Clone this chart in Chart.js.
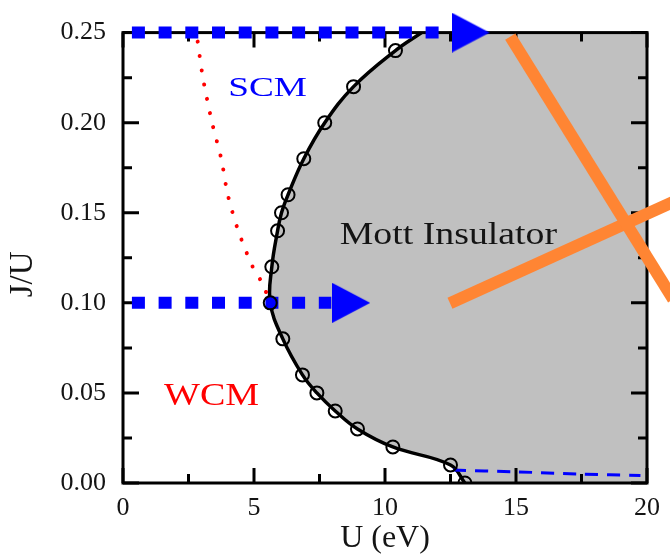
<!DOCTYPE html>
<html>
<head>
<meta charset="utf-8">
<script src="https://cdn.jsdelivr.net/npm/chart.js@4/dist/chart.umd.min.js"></script>
<style>
  html, body { margin: 0; padding: 0; background: #fff; }
  #c { display: block; }
</style>
</head>
<body>
<canvas id="c" width="670" height="558"></canvas>
<script>
// Mott boundary: open circles (U in eV, J/U)
const circU = [13.05, 12.5, 10.3, 8.95, 8.1, 7.4, 6.85, 6.1, 5.62, 5.68, 5.9, 6.05, 6.3, 6.9, 7.7, 8.8, 10.4];
const circJ = [0.0, 0.01, 0.02, 0.03, 0.04, 0.05, 0.06, 0.08, 0.10, 0.12, 0.14, 0.15, 0.16, 0.18, 0.20, 0.22, 0.24];
// solid line runs on up to the top edge
const curveU = [...circU, 11.4];
const curveJ = [...circJ, 0.25];

// WCM / SCM crossover (red dotted)
const crossU = [2.85, 3.05, 3.4, 3.75, 4.0, 4.4, 4.95, 5.35, 5.6];
const crossJ = [0.245, 0.225, 0.2, 0.18, 0.16, 0.14, 0.12, 0.11, 0.10];

// blue dashed line near J/U = 0
const lowU = [12.6, 15, 17.4, 19.75];
const lowJ = [0.0072, 0.0062, 0.005, 0.0042];

// blue arrows
const arrowJ = [0.25, 0.10];
const arrowFromU = [0.34, 0.34];
const arrowToU = [12.6, 7.95];
const headU = [13.27, 8.71];

// orange cross
const orange1U = [14.78, 21], orange1J = [0.2478, 0.102];
const orange2U = [12.48, 21], orange2J = [0.0998, 0.156];

// tick values
const xTicks = [0, 5, 10, 15, 20];
const yTicks = [0, 0.05, 0.10, 0.15, 0.20, 0.25];

// region labels
const labelText = ['SCM', 'Mott Insulator', 'WCM'];
const labelU = [5.52, 12.42, 3.38];
const labelJ = [0.215, 0.1328, 0.0433];

const SERIF = "'Liberation Serif', 'Times New Roman', serif";
const labelStyle = [
  { color: '#0000ff', size: 27, sx: 1.38 },
  { color: '#141414', size: 31, sx: 1.22 },
  { color: '#ff0000', size: 32, sx: 1.19 },
];

const pts = (xs, ys) => xs.map((x, i) => ({ x, y: ys[i] }));

// arrow head as a canvas point style
const head = document.createElement('canvas');
head.width = 38; head.height = 40;
{
  const g = head.getContext('2d');
  g.fillStyle = '#0000ff';
  g.beginPath(); g.moveTo(0, 0); g.lineTo(38, 20); g.lineTo(0, 40); g.closePath(); g.fill();
}

// box frame + inward ticks, drawn right after the grey region
const frame = {
  id: 'frame',
  afterDatasetDraw(chart, args) {
    if (args.index !== 0) return;
    const { ctx, chartArea: a, scales: { x, y } } = chart;
    ctx.save();
    ctx.strokeStyle = '#000';
    ctx.lineWidth = 3;
    ctx.lineCap = 'butt';
    ctx.beginPath();
    const xs = [];
    xTicks.forEach((v, i) => { xs.push([v, 15]); if (i < xTicks.length - 1) xs.push([v + 2.5, 9]); });
    xs.forEach(([v, len]) => {
      const px = x.getPixelForValue(v);
      ctx.moveTo(px, a.bottom); ctx.lineTo(px, a.bottom - len);
      ctx.moveTo(px, a.top); ctx.lineTo(px, a.top + len);
    });
    const ys = [];
    yTicks.forEach((v, i) => { ys.push([v, 16]); if (i < yTicks.length - 1) ys.push([v + 0.025, 9]); });
    ys.forEach(([v, len]) => {
      const py = y.getPixelForValue(v);
      ctx.moveTo(a.left, py); ctx.lineTo(a.left + len, py);
      ctx.moveTo(a.right, py); ctx.lineTo(a.right - len, py);
    });
    ctx.stroke();
    ctx.strokeRect(a.left, a.top, a.right - a.left, a.bottom - a.top);
    ctx.restore();
  },
  afterDatasetsDraw(chart) {
    const { ctx, scales: { x, y } } = chart;
    ctx.save();
    ctx.textAlign = 'center';
    ctx.textBaseline = 'alphabetic';
    labelText.forEach((t, i) => {
      const s = labelStyle[i];
      ctx.save();
      ctx.translate(x.getPixelForValue(labelU[i]), y.getPixelForValue(labelJ[i]));
      ctx.scale(s.sx, 1);
      ctx.fillStyle = s.color;
      ctx.font = `${s.size}px ${SERIF}`;
      ctx.fillText(t, 0, 0);
      ctx.restore();
    });
    ctx.restore();
  },
};

const arrowLine = i => ({
  data: pts([arrowFromU[i], arrowToU[i]], [arrowJ[i], arrowJ[i]]),
  showLine: true, borderColor: '#0000ff', borderWidth: 12, borderDash: [13, 13.7],
  borderCapStyle: 'butt', pointRadius: 0, clip: false, order: 3,
});

new Chart(document.getElementById('c'), {
  type: 'scatter',
  plugins: [frame],
  data: {
    datasets: [
      { // grey Mott insulator region
        data: pts([...curveU, 20, 20], [...curveJ, 0.25, 0]),
        showLine: true, fill: 'shape', backgroundColor: '#c0c0c0',
        borderWidth: 0, pointRadius: 0, tension: 0, order: 10,
      },
      {
        data: pts(orange1U, orange1J), showLine: true, borderColor: '#ff8533',
        borderWidth: 12, borderCapStyle: 'butt', pointRadius: 0, clip: false, order: 8,
      },
      {
        data: pts(orange2U, orange2J), showLine: true, borderColor: '#ff8533',
        borderWidth: 12, borderCapStyle: 'butt', pointRadius: 0, clip: false, order: 8,
      },
      { // phase boundary
        data: pts(curveU, curveJ), showLine: true, borderColor: '#000',
        borderWidth: 3.5, tension: 0.4, pointRadius: 0, order: 6,
      },
      {
        data: pts(lowU, lowJ), showLine: true, borderColor: '#0000ff',
        borderWidth: 3, borderDash: [13, 9], tension: 0.3, pointRadius: 0, order: 5,
      },
      {
        data: pts(crossU, crossJ), showLine: true, borderColor: '#ff0000',
        borderWidth: 4, borderDash: [0.01, 14.5], borderCapStyle: 'round',
        tension: 0.3, pointRadius: 0, order: 4,
      },
      arrowLine(0),
      arrowLine(1),
      {
        data: pts(headU, arrowJ), showLine: false, pointStyle: head, pointRadius: 20,
        clip: false, order: 2,
      },
      {
        data: pts(circU, circJ), showLine: false, pointStyle: 'circle', pointRadius: 6.5,
        pointBorderWidth: 2, pointBorderColor: '#000', pointBackgroundColor: 'rgba(0,0,0,0)',
        order: 1,
      },
    ],
  },
  options: {
    responsive: false, animation: false, devicePixelRatio: 1,
    layout: { padding: { top: 27, right: 18, left: 0, bottom: 0 } },
    plugins: { legend: { display: false }, tooltip: { enabled: false } },
    scales: {
      x: {
        type: 'linear', min: 0, max: 20,
        afterFit: s => { s.height = 75; },
        afterBuildTicks: s => { s.ticks = xTicks.map(v => ({ value: v })); },
        grid: { display: false, drawTicks: false }, border: { display: false },
        ticks: { color: '#141414', padding: 10, font: { family: SERIF, size: 26 }, callback: v => String(v) },
        title: { display: true, text: 'U (eV)', color: '#141414', padding: { top: 0, bottom: 0 },
                 font: { family: SERIF, size: 32 } },
      },
      y: {
        type: 'linear', min: 0, max: 0.25,
        afterFit: s => { s.width = 123; },
        afterBuildTicks: s => { s.ticks = yTicks.map(v => ({ value: v })); },
        grid: { display: false, drawTicks: false }, border: { display: false },
        ticks: { color: '#141414', padding: 17, font: { family: SERIF, size: 26 }, callback: v => v.toFixed(2) },
        title: { display: true, text: 'J/U    ', color: '#141414', padding: { top: 4, bottom: 0 },
                 font: { family: SERIF, size: 33 } },
      },
    },
  },
});
</script>
</body>
</html>
